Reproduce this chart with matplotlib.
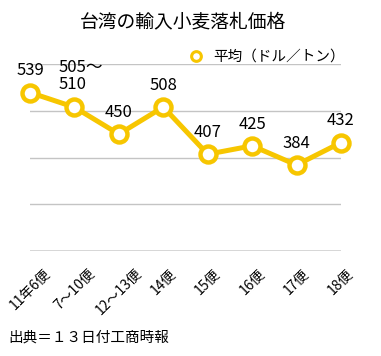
import matplotlib
matplotlib.use("Agg")
import matplotlib.pyplot as plt
from matplotlib.lines import Line2D

plt.rcParams['font.family'] = ['Noto Sans CJK JP', 'DejaVu Sans']

categories = ["11年6便", "7〜10便", "12〜13便", "14便", "15便", "16便", "17便", "18便"]
values = [539, 507.5, 450, 508, 407, 425, 384, 432]
value_labels = ["539", "505〜\n510", "450", "508", "407", "425", "384", "432"]
yticks = [200, 300, 400, 500, 600]

W, H = 381, 356
fig = plt.figure(figsize=(W / 100, H / 100), dpi=100)
ax = fig.add_axes([30 / W, (H - 251) / H, (341 - 30) / W, (251 - 64) / H])

yellow = "#F7C600"
x = list(range(len(categories)))
ax.plot(x, values, color=yellow, lw=3.6, marker="o", ms=11.5,
        mfc="white", mec=yellow, mew=3.2, zorder=3, clip_on=False)

ax.set_xlim(0, len(categories) - 1)
ax.set_ylim(yticks[0], yticks[-1])
for yv in yticks[1:]:
    ax.axhline(yv, color="#c4c4c4", lw=1.0, zorder=1)
ax.axhline(yticks[0], color="#333333", lw=1.0, zorder=2)
for s in ax.spines.values():
    s.set_visible(False)
ax.set_yticks([])
ax.set_xticks(x)
ax.set_xticklabels(categories, rotation=45, ha="center", va="top", fontsize=10)
ax.tick_params(axis="x", length=0, pad=11)

for i, (v, lab) in enumerate(zip(values, value_labels)):
    if "\n" in lab:
        ax.annotate(lab, (i, v), xytext=(-11.5, 10), textcoords="offset points",
                    ha="left", va="bottom", fontsize=12, linespacing=1.05)
    else:
        ax.annotate(lab, (i, v), xytext=(0, 9.5), textcoords="offset points",
                    ha="center", va="bottom", fontsize=12)

fig.text(183 / W, 1 - 22 / H, "台湾の輸入小麦落札価格", ha="center", va="center",
         fontsize=13.5)

handle = Line2D([], [], color=yellow, lw=0, marker="o", ms=7, mfc="white", mec=yellow, mew=2.2)
fig.legend([handle], ["平均（ドル／トン）"], loc="center left",
           bbox_to_anchor=(180 / W, 1 - 57 / H), frameon=False, fontsize=10.5,
           handlelength=1.2, handletextpad=0.6, borderpad=0)

fig.text(8 / W, 1 - 338 / H, "出典＝１３日付工商時報", ha="left", va="center", fontsize=10.5)

fig.savefig("out.png", dpi=100)
